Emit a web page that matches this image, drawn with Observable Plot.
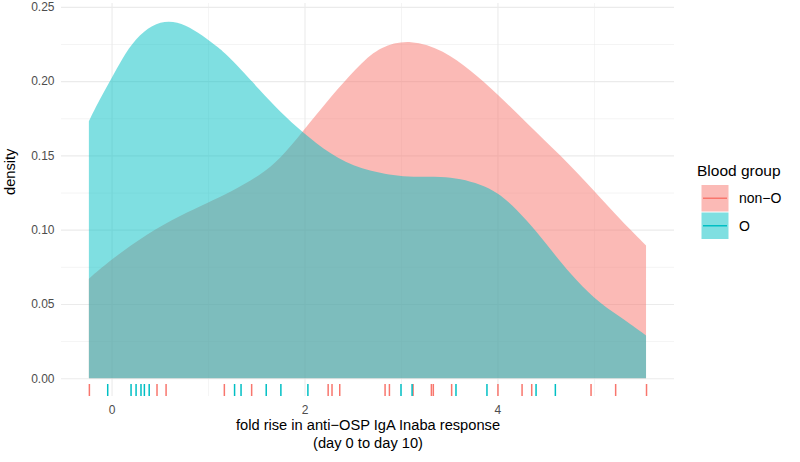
<!DOCTYPE html>
<html>
<head>
<meta charset="utf-8">
<script src="https://cdn.jsdelivr.net/npm/d3@7"></script>
<script src="https://cdn.jsdelivr.net/npm/@observablehq/plot@0.6"></script>
<style>
  html, body { margin: 0; padding: 0; background: white; }
  #wrap { position: relative; width: 800px; height: 462px; }
  #legend { position: absolute; left: 0; top: 0; }
</style>
</head>
<body>
<div id="wrap"></div>
<script>
// ---- Data ----
const groups = ["non−O", "O"];
const groupColors = ["#F8766D", "#00BFC4"];

// density curve of group "non−O"
const nonOX = [-0.235, 0.007, 0.37, 0.715, 1.0, 1.233, 1.544, 1.751, 1.976, 2.269, 2.58, 2.788, 3.098, 3.444, 3.72, 3.997, 4.31, 4.653, 5.0, 5.275, 5.54];
const nonODensity = [0.067, 0.0805, 0.0973, 0.1096, 0.1182, 0.1252, 0.1368, 0.1478, 0.1655, 0.1893, 0.2119, 0.2235, 0.2283, 0.2208, 0.2074, 0.1916, 0.1714, 0.1501, 0.1263, 0.1066, 0.0894];

// density curve of group "O"
const oX = [-0.235, -0.13, 0.0, 0.11, 0.249, 0.42, 0.594, 0.767, 0.94, 1.11, 1.233, 1.544, 1.751, 1.976, 2.269, 2.58, 2.995, 3.202, 3.41, 3.617, 3.824, 4.0, 4.2, 4.41, 4.58, 4.756, 5.0, 5.275, 5.54];
const oDensity = [0.173, 0.187, 0.2018, 0.2152, 0.2287, 0.238, 0.241, 0.238, 0.231, 0.2225, 0.2155, 0.1935, 0.179, 0.1658, 0.1505, 0.1405, 0.1356, 0.1356, 0.1357, 0.1344, 0.1305, 0.1252, 0.1138, 0.0984, 0.0842, 0.0703, 0.0535, 0.0411, 0.0288];

// rug observations
const rugNonO = [-0.235, 0.466, 0.56, 1.164, 1.447, 2.24, 2.28, 2.36, 2.83, 2.875, 3.12, 3.31, 3.33, 3.52, 4.0, 4.25, 4.35, 4.965, 5.22, 5.54];
const rugO = [-0.045, 0.197, 0.249, 0.30, 0.335, 0.385, 1.27, 1.337, 1.598, 1.75, 2.03, 2.995, 3.11, 3.565, 3.886, 4.395, 4.595];

// ticks
const xTicks = [0, 2, 4];
const xMinor = [1, 3, 5];
const yTicks = [0, 0.05, 0.10, 0.15, 0.20, 0.25];
const yMinor = [0.025, 0.075, 0.125, 0.175, 0.225];

const xTitle = "fold rise in anti−OSP IgA Inaba response\n(day 0 to day 10)";
const yTitle = "density";
const legendTitle = "Blood group";

// ---- build tables ----
const curves = [
  ...nonOX.map((x, i) => ({group: groups[0], x, density: nonODensity[i]})),
  ...oX.map((x, i) => ({group: groups[1], x, density: oDensity[i]}))
];
const nonOCurve = curves.filter(d => d.group === groups[0]);
const oCurve = curves.filter(d => d.group === groups[1]);

const font = "'Liberation Sans', Arial, Helvetica, sans-serif";
const gridColor = "#EBEBEB";

const chart = Plot.plot({
  width: 800,
  height: 462,
  marginLeft: 61,
  marginRight: 126,
  marginTop: 3,
  marginBottom: 66,
  style: {fontFamily: font, background: "white", overflow: "visible"},
  x: {domain: [-0.524, 5.83], label: null},
  y: {domain: [-0.012, 0.2526], label: null},
  marks: [
    Plot.gridX(xMinor, {stroke: gridColor, strokeOpacity: 1, strokeWidth: 0.55}),
    Plot.gridY(yMinor, {stroke: gridColor, strokeOpacity: 1, strokeWidth: 0.55}),
    Plot.gridX(xTicks, {stroke: gridColor, strokeOpacity: 1, strokeWidth: 1.07}),
    Plot.gridY(yTicks, {stroke: gridColor, strokeOpacity: 1, strokeWidth: 1.07}),
    Plot.areaY(nonOCurve, {x: "x", y: "density", fill: groupColors[0], fillOpacity: 0.5, curve: "basis"}),
    Plot.areaY(oCurve, {x: "x", y: "density", fill: groupColors[1], fillOpacity: 0.5, curve: "basis"}),
    Plot.ruleX(rugNonO, {stroke: groupColors[0], strokeWidth: 1.5, insetTop: 381}),
    Plot.ruleX(rugO, {stroke: groupColors[1], strokeWidth: 1.5, insetTop: 381}),
    Plot.axisX({ticks: xTicks, tickSize: 0, tickPadding: 9, fontSize: 12, fill: "#4D4D4D", tickFormat: d3.format("d"), label: null}),
    Plot.axisY({ticks: yTicks, tickSize: 0, tickPadding: 7, fontSize: 12, fill: "#4D4D4D", tickFormat: d3.format(".2f"), label: null}),
    Plot.text([xTitle], {frameAnchor: "bottom", lineAnchor: "top", dy: 21, lineHeight: 1.2, fontSize: 14.67, fill: "black"}),
    Plot.text([yTitle], {frameAnchor: "left", rotate: -90, dx: -51, dy: -5, fontSize: 14.67, fill: "black"})
  ]
});

const wrap = document.getElementById("wrap");
wrap.appendChild(chart);

// ---- legend ----
const leg = d3.select(wrap).append("svg")
  .attr("id", "legend")
  .attr("width", 800).attr("height", 462)
  .style("font-family", font);

leg.append("text")
  .attr("x", 697).attr("y", 176)
  .attr("font-size", 15.5).attr("fill", "black")
  .text(legendTitle);

groups.forEach((g, i) => {
  const y0 = 185 + i * 27.5;
  leg.append("rect")
    .attr("x", 701.5).attr("y", y0).attr("width", 27).attr("height", 26.5)
    .attr("fill", groupColors[i]).attr("fill-opacity", 0.5);
  leg.append("line")
    .attr("x1", 703).attr("x2", 727).attr("y1", y0 + 13.25).attr("y2", y0 + 13.25)
    .attr("stroke", groupColors[i]).attr("stroke-width", 1.5);
  leg.append("text")
    .attr("x", 739).attr("y", y0 + 13.25).attr("dy", "0.35em")
    .attr("font-size", 14).attr("fill", "black")
    .text(g);
});
</script>
</body>
</html>
